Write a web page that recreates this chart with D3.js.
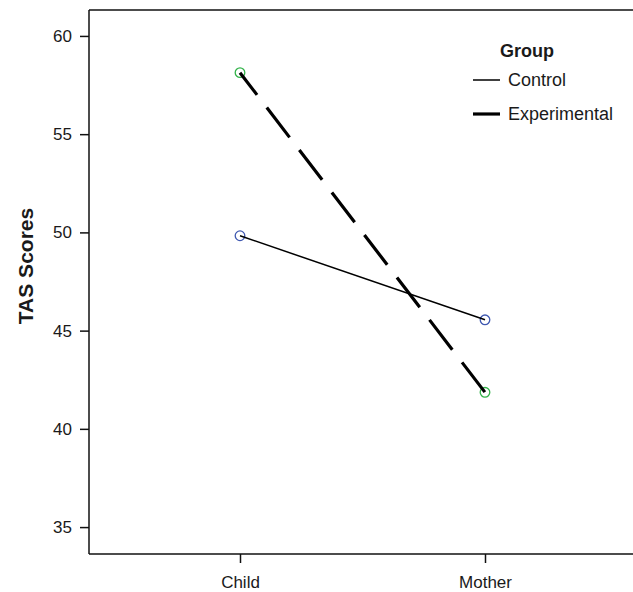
<!DOCTYPE html>
<html>
<head>
<meta charset="utf-8">
<script src="https://cdn.jsdelivr.net/npm/d3@7"></script>
<style>
    body { margin: 0; background: #fff; }
    text { font-family: Arial, 'Liberation Sans', sans-serif; fill: #1a1a1a; }
</style>
</head>
<body>
<svg id="chart" width="633" height="592"></svg>
<script>
// values
var categories = ['Child', 'Mother'];
var groups = ['Control', 'Experimental'];
var control = [49.83, 45.55];
var experimental = [58.13, 41.86];
var yTicks = [35, 40, 45, 50, 55, 60];

var width = 633;
var height = 592;
var left = 89;
var top_ = 10;
var bottom = 554;

var svg = d3.select('#chart');

var x = d3.scalePoint().domain(categories).range([240, 485]);
var y = d3.scaleLinear().domain([33.63, 61.32]).range([bottom, top_]);

// frame: left axis, bottom axis, top line (no right line)
svg.append('line')
    .attr('x1', left).attr('x2', width)
    .attr('y1', top_).attr('y2', top_)
    .attr('stroke', '#111').attr('stroke-width', 1.5);

var yAxis = svg.append('g')
    .attr('transform', 'translate(' + left + ',0)')
    .call(d3.axisLeft(y).tickValues(yTicks).tickSize(9).tickPadding(8).tickSizeOuter(0));

var xAxis = svg.append('g')
    .attr('transform', 'translate(0,' + bottom + ')')
    .call(d3.axisBottom(x).tickSize(9).tickPadding(13).tickSizeOuter(0));

// stretch the domain lines over the whole frame
yAxis.select('.domain').attr('d', 'M0,' + top_ + 'V' + bottom);
xAxis.select('.domain').attr('d', 'M' + left + ',0H' + width);

[yAxis, xAxis].forEach(function (ax) {
    ax.selectAll('.domain, .tick line').attr('stroke', '#111').attr('stroke-width', 1.5);
    ax.selectAll('.tick text')
        .attr('fill', '#1a1a1a')
        .style('font-size', '17px')
        .style('font-family', "Arial, 'Liberation Sans', sans-serif");
});

svg.append('text')
    .attr('transform', 'translate(33,266) rotate(-90)')
    .attr('text-anchor', 'middle')
    .style('font-size', '21px')
    .style('font-weight', 'bold')
    .text('TAS Scores');

var line = d3.line()
    .x(function (d, i) { return x(categories[i]); })
    .y(function (d) { return y(d); });

// markers
var markerColor = { Control: '#3f58b0', Experimental: '#33b34a' };
var seriesData = { Control: control, Experimental: experimental };

groups.forEach(function (g) {
    svg.append('g').selectAll('circle')
        .data(seriesData[g])
        .enter()
        .append('circle')
        .attr('cx', function (d, i) { return x(categories[i]); })
        .attr('cy', function (d) { return y(d); })
        .attr('r', 4.8)
        .attr('fill', 'none')
        .attr('stroke', markerColor[g])
        .attr('stroke-width', 1.3);
});

svg.append('path')
    .datum(control)
    .attr('d', line)
    .attr('fill', 'none')
    .attr('stroke', '#000')
    .attr('stroke-width', 1.5);

svg.append('path')
    .datum(experimental)
    .attr('d', line)
    .attr('fill', 'none')
    .attr('stroke', '#000')
    .attr('stroke-width', 3.2)
    .attr('stroke-dasharray', '37.5,16')
    .attr('stroke-dashoffset', 9.5);

// legend
var legend = svg.append('g').attr('transform', 'translate(473,0)');
legend.append('text')
    .attr('x', 27).attr('y', 57)
    .style('font-size', '18px')
    .style('font-weight', 'bold')
    .text('Group');

var legendRows = [
    { name: groups[0], y: 80, w: 1.5 },
    { name: groups[1], y: 114, w: 3.2 }
];
legendRows.forEach(function (r) {
    legend.append('line')
        .attr('x1', 0).attr('x2', 27)
        .attr('y1', r.y).attr('y2', r.y)
        .attr('stroke', '#000')
        .attr('stroke-width', r.w);
    legend.append('text')
        .attr('x', 35).attr('y', r.y + 6)
        .style('font-size', '18px')
        .text(r.name);
});
</script>
</body>
</html>
